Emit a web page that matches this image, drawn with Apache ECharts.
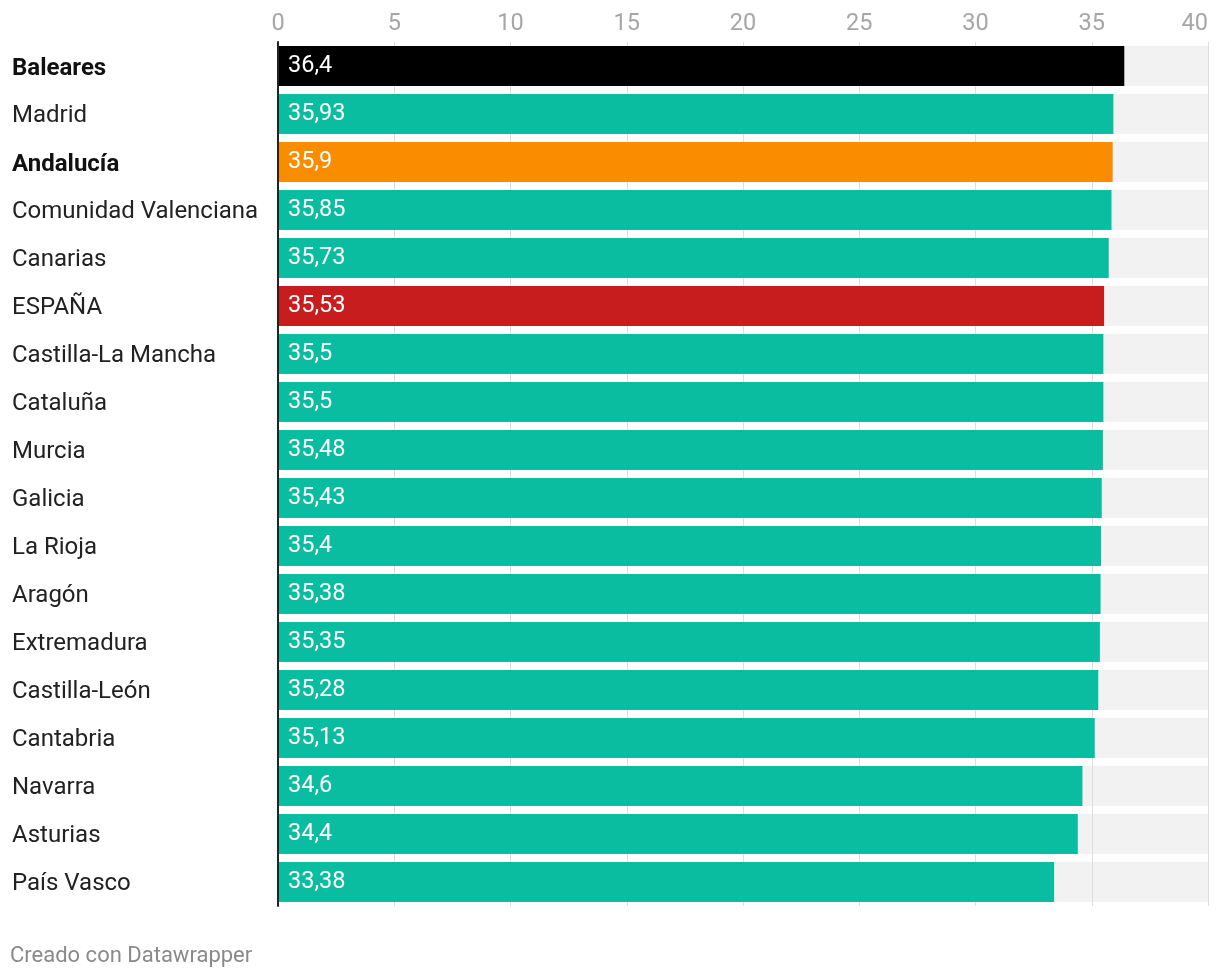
<!DOCTYPE html>
<html>
<head>
<meta charset="utf-8">
<script src="https://cdn.jsdelivr.net/npm/echarts@6/dist/echarts.min.js"></script>
<style>
html,body{margin:0;padding:0;background:#fff;}
#chart{width:1220px;height:978px;}
</style>
</head>
<body>
<div id="chart"></div>
<script>
const categories = ["Baleares","Madrid","Andalucía","Comunidad Valenciana","Canarias","ESPAÑA","Castilla-La Mancha","Cataluña","Murcia","Galicia","La Rioja","Aragón","Extremadura","Castilla-León","Cantabria","Navarra","Asturias","País Vasco"];
const values = [36.4,35.93,35.9,35.85,35.73,35.53,35.5,35.5,35.48,35.43,35.4,35.38,35.35,35.28,35.13,34.6,34.4,33.38];
const boldCategories = ["Baleares","Andalucía"];
const highlightColors = {"Baleares":"#000000","Andalucía":"#fa8c00","ESPAÑA":"#c81d1f"};
const defaultColor = "#0bbda0";
const axisMax = 40;

const chart = echarts.init(document.getElementById('chart'));
const fontFamily = 'Roboto, "Noto Sans", sans-serif';
chart.setOption({
  animation: false,
  grid: {left: 278, right: 12, top: 42, bottom: 72, containLabel: false, outerBoundsMode: 'none'},
  xAxis: {
    type: 'value', position: 'top', min: 0, max: axisMax, interval: 5,
    axisLine: {show: false}, axisTick: {show: false},
    axisLabel: {color: '#a6a6a6', fontSize: 23.5, fontFamily: fontFamily, margin: 6, alignMaxLabel: 'right'},
    splitLine: {show: true, lineStyle: {color: '#dedede', width: 1}},
    z: 1
  },
  yAxis: {
    type: 'category', data: categories, inverse: true,
    axisLine: {show: true, onZero: false, lineStyle: {color: '#222', width: 2}},
    axisTick: {show: false},
    axisLabel: {
      align: 'left', margin: 266, fontSize: 24, fontFamily: fontFamily, color: '#222',
      padding: [3, 0, 0, 0],
      formatter: function (v) { return boldCategories.includes(v) ? '{b|' + v + '}' : v; },
      rich: {b: {fontWeight: 'bold', fontSize: 24, fontFamily: fontFamily, color: '#111', padding: [3, 0, 0, 0]}}
    },
    z: 3
  },
  series: [
    {
      type: 'bar', name: 'bg', data: categories.map(() => axisMax), barWidth: 40, barGap: '-100%',
      itemStyle: {color: '#f2f2f2'}, silent: true, z: -1
    },
    {
      type: 'bar', name: 'val', barWidth: 40,
      data: values.map((v, i) => ({value: v, itemStyle: {color: highlightColors[categories[i]] || defaultColor}})),
      label: {
        show: true, position: 'insideLeft', distance: 10, color: '#fff', fontSize: 23.5, fontFamily: fontFamily,
        padding: [4, 0, 0, 0],
        formatter: function (p) { return String(p.value).replace('.', ','); }
      },
      z: 2
    }
  ],
  graphic: [{
    type: 'text', left: 10, top: 945,
    style: {text: 'Creado con Datawrapper', fill: '#8a8a8a', fontSize: 22, fontFamily: fontFamily}
  }]
});
</script>
</body>
</html>
